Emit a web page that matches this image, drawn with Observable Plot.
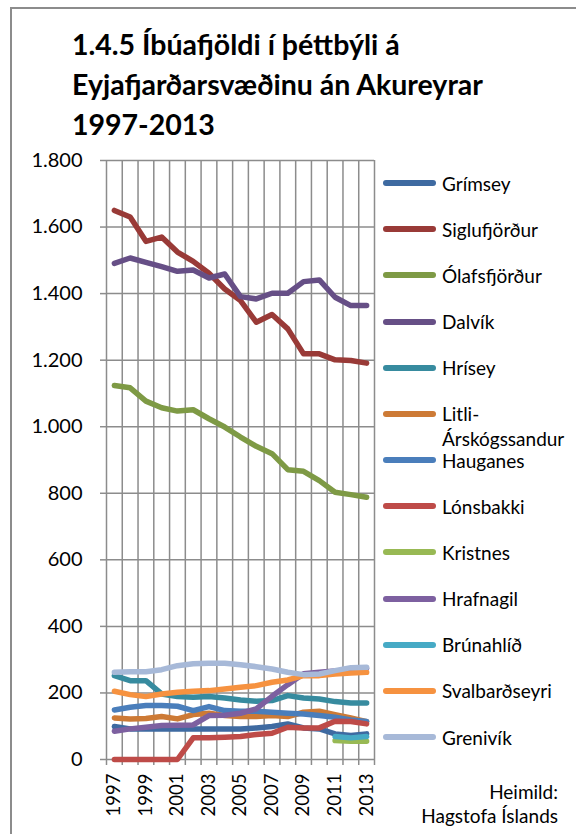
<!DOCTYPE html>
<html><head><meta charset="utf-8">
<script src="https://cdn.jsdelivr.net/npm/d3@7"></script>
<script src="https://cdn.jsdelivr.net/npm/@observablehq/plot@0.6"></script>
<style>
html,body{margin:0;padding:0}
body{width:576px;height:834px;overflow:hidden;background:#fff;font-family:Lato,sans-serif;position:relative;color:#000}
#frame{position:absolute;left:10px;top:7px;width:700px;height:900px;border:2px solid #8c8c8c;box-sizing:border-box}
#title{position:absolute;left:72px;top:24px;font-weight:bold;font-size:28.5px;line-height:40px;white-space:nowrap}
#chart{position:absolute;left:0;top:140px}
.sw{position:absolute;left:383px;width:53px;height:6px;border-radius:3px}
.lt{position:absolute;left:442px;width:134px;font-size:19px;line-height:25px}
.src{position:absolute;right:18px;font-size:19px;line-height:23px;text-align:right;white-space:nowrap}
</style></head>
<body>
<div id="frame"></div>
<div id="title">1.4.5 Íbúafjöldi í þéttbýli á<br>Eyjafjarðarsvæðinu án Akureyrar<br>1997-2013</div>
<div id="chart"></div>
<div id="legend"></div>
<div class="src" style="top:780px">Heimild:</div>
<div class="src" style="top:804px">Hagstofa Íslands</div>
<script>
const years = [1997,1998,1999,2000,2001,2002,2003,2004,2005,2006,2007,2008,2009,2010,2011,2012,2013];
const yTicks = [0,200,400,600,800,1000,1200,1400,1600,1800];
const xLabelYears = [1997,1999,2001,2003,2005,2007,2009,2011,2013];

const names = ["Grímsey","Siglufjörður","Ólafsfjörður","Dalvík","Hrísey","Litli-Árskógssandur","Hauganes","Lónsbakki","Kristnes","Hrafnagil","Brúnahlíð","Svalbarðseyri","Grenivík"];
const colors = ["#3e6aa1","#993a37","#7e9a45","#664f86","#378b9f","#cd7a35","#4a7ebb","#be4b48","#98b954","#7d60a0","#46aac5","#f69240","#a7b9d8"];

const grimsey       = [99,92,92,92,92,92,92,92,92,95,99,107,95,92,77,72,77];
const siglufjordur  = [1650,1630,1557,1570,1525,1497,1461,1414,1379,1314,1337,1294,1219,1219,1201,1199,1191];
const olafsfjordur  = [1124,1117,1077,1057,1047,1051,1024,999,969,941,919,871,866,838,803,796,788];
const dalvik        = [1491,1507,1494,1481,1467,1471,1447,1459,1391,1384,1401,1401,1436,1441,1389,1364,1364];
const hrisey        = [252,237,237,197,189,187,189,185,179,175,177,192,185,182,174,170,170];
const litli         = [125,122,123,129,122,135,139,132,129,129,132,129,142,145,135,125,114];
const hauganes      = [149,157,162,162,160,147,159,147,145,145,142,139,137,132,127,119,114];
const lonsbakki     = [0,0,0,0,0,65,65,67,69,75,79,97,95,95,115,114,107];
const kristnes      = [null,null,null,null,null,null,null,null,null,null,null,null,null,null,57,55,55];
const hrafnagil     = [85,92,97,102,103,104,132,133,139,152,190,225,258,262,266,270,274];
const brunahlid     = [null,null,null,null,null,null,null,null,null,null,null,null,null,null,69,65,69];
const svalbardseyri = [205,195,189,197,202,205,207,212,217,222,232,239,252,252,257,260,262];
const grenivik      = [262,264,264,270,282,288,289,289,285,279,272,262,255,257,267,276,277];

const seriesValues = [grimsey,siglufjordur,olafsfjordur,dalvik,hrisey,litli,hauganes,lonsbakki,kristnes,hrafnagil,brunahlid,svalbardseyri,grenivik];

const data = [];
names.forEach((n,i)=>{
  seriesValues[i].forEach((v,j)=>{ if(v!=null) data.push({series:n, year:years[j], value:v}); });
});

const fmt = d3.formatLocale({decimal:",",thousands:".",grouping:[3],currency:["",""]}).format(",d");
const bounds = years.map(y=>y-0.5).concat([years[years.length-1]+0.5]);
const gridColor = "#8c8c8c";

const chart = Plot.plot({
  width:380, height:694,
  marginLeft:106, marginRight:6, marginTop:20, marginBottom:75,
  style:{fontFamily:"Lato, sans-serif", background:"transparent", overflow:"visible", color:"#000"},
  x:{type:"linear", domain:[bounds[0], bounds[bounds.length-1]]},
  y:{domain:[0,1800]},
  color:{domain:names, range:colors},
  marks:[
    Plot.gridX(bounds,{stroke:gridColor, strokeOpacity:1, strokeWidth:1.5}),
    Plot.gridY(yTicks,{stroke:gridColor, strokeOpacity:1, strokeWidth:1.5}),
    Plot.axisY(yTicks,{tickSize:6, tickPadding:18, tickFormat:fmt, fontSize:20, stroke:gridColor, strokeOpacity:1, strokeWidth:1.5, fill:"#000", label:null}),
    Plot.axisX(bounds,{tickSize:6, tickFormat:()=>"", stroke:gridColor, strokeOpacity:1, strokeWidth:1.5, label:null}),
    Plot.axisX(xLabelYears,{tickSize:0, tickRotate:-90, tickPadding:14, fontSize:18.5, fill:"#000", tickFormat:d=>String(d), label:null}),
    Plot.line(data,{x:"year", y:"value", z:"series", stroke:"series", strokeWidth:5.5, strokeLinejoin:"round", strokeLinecap:"round"})
  ]
});
document.getElementById("chart").appendChild(chart);

const legend = document.getElementById("legend");
const first = 183, step = 46.17;
names.forEach((n,i)=>{
  const c = first + i*step;
  const sw = document.createElement("div");
  sw.className = "sw"; sw.style.top = (c-3)+"px"; sw.style.background = colors[i];
  legend.appendChild(sw);
  const t = document.createElement("div");
  t.className = "lt"; t.style.top = (c-12.5)+"px";
  t.innerHTML = n.replace("-", "-<wbr>");
  legend.appendChild(t);
});
</script>
</body></html>
